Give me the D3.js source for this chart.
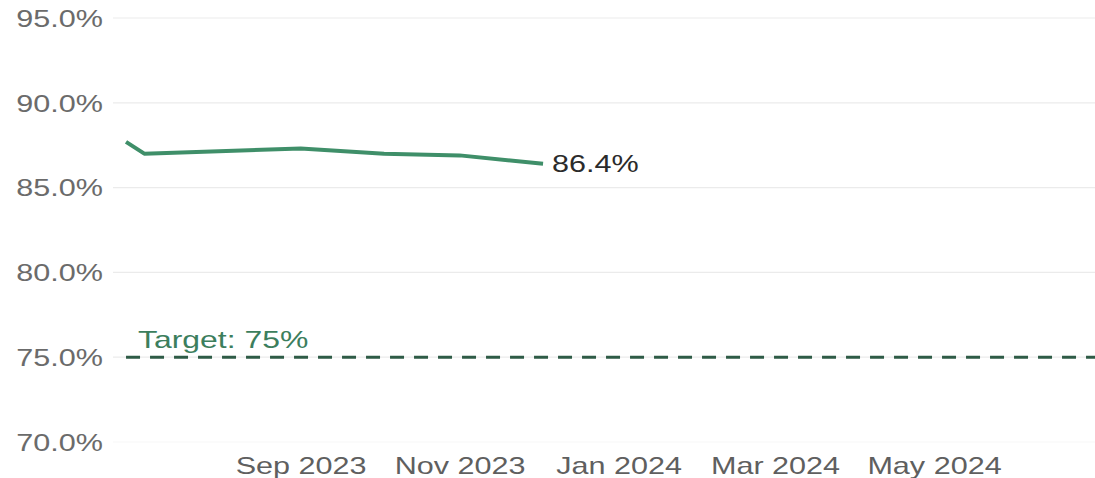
<!DOCTYPE html>
<html>
<head>
<meta charset="utf-8">
<script src="https://cdn.jsdelivr.net/npm/d3@7"></script>
<style>
  html, body { margin: 0; padding: 0; background: #fff; }
  svg { display: block; font-family: "Liberation Sans", Arial, sans-serif; }
</style>
</head>
<body>
<svg id="chart" width="1095" height="478"></svg>
<script>
// Monthly rate readings
const dates = ["2023-06-26", "2023-07-03", "2023-09-01", "2023-10-03", "2023-11-01", "2023-12-03"];
const values = [87.7, 87.0, 87.3, 87.0, 86.9, 86.4];

// Axis ticks
const yTicks = [70, 75, 80, 85, 90, 95];
const xTickDates = ["2023-09-01", "2023-11-01", "2024-01-01", "2024-03-01", "2024-05-01"];

// Target reference
const target = 75;
const targetLabel = "Target: 75%";

const parse = d3.utcParse("%Y-%m-%d");
const points = dates.map((d, i) => ({ date: parse(d), value: values[i] }));

const svg = d3.select("#chart");
const W = 1095;
const STRETCH = 1.33; // wide lettering used throughout

const x = d3.scaleUtc()
  .domain([parse("2023-06-21"), parse("2024-07-01")])
  .range([113, 1093]);

const y = d3.scaleLinear()
  .domain([70, 95])
  .range([442, 18]);

// Horizontal gridlines
svg.append("g")
  .selectAll("line")
  .data(yTicks)
  .join("line")
  .attr("x1", 113)
  .attr("x2", W)
  .attr("y1", d => y(d))
  .attr("y2", d => y(d))
  .attr("stroke", d => d === 70 ? "#f7f7f7" : "#ebebeb")
  .attr("stroke-width", 1.2);

// Y axis labels
const yAxis = svg.append("g")
  .attr("transform", "translate(113,0)")
  .call(d3.axisLeft(y).tickValues(yTicks).tickSize(0).tickPadding(0)
    .tickFormat(d => d3.format(".1f")(d) + "%"));
yAxis.select(".domain").remove();
yAxis.selectAll("text")
  .attr("x", -10 / STRETCH)
  .attr("dy", "0.36em")
  .attr("transform", `scale(${STRETCH},1)`)
  .attr("fill", "#6b6b6b")
  .style("font-size", "23px")
  .style("font-family", "'Liberation Sans', Arial, sans-serif");

// X axis labels
const xAxis = svg.append("g")
  .attr("transform", "translate(0,442)")
  .call(d3.axisBottom(x).tickValues(xTickDates.map(parse)).tickSize(0).tickPadding(0)
    .tickFormat(d3.utcFormat("%b %Y")));
xAxis.select(".domain").remove();
xAxis.selectAll("text")
  .attr("y", 32)
  .attr("dy", 0)
  .attr("transform", `scale(${STRETCH},1)`)
  .attr("fill", "#5f5f5f")
  .style("font-size", "23px")
  .style("font-family", "'Liberation Sans', Arial, sans-serif");

// Target dashed line
svg.append("line")
  .attr("x1", x(points[0].date))
  .attr("x2", W)
  .attr("y1", y(target))
  .attr("y2", y(target))
  .attr("stroke", "#2e5b46")
  .attr("stroke-width", 3)
  .attr("stroke-dasharray", "14,10");

svg.append("text")
  .attr("transform", `translate(${x(points[0].date) + 12},${y(target) - 9}) scale(${STRETCH},1)`)
  .attr("fill", "#3c7e5d")
  .style("font-size", "24px")
  .text(targetLabel);

// Rate line
const line = d3.line()
  .x(d => x(d.date))
  .y(d => y(d.value));

svg.append("path")
  .datum(points)
  .attr("d", line)
  .attr("fill", "none")
  .attr("stroke", "#3f8f69")
  .attr("stroke-width", 4)
  .attr("stroke-linejoin", "round");

// End-of-line value label
const last = points[points.length - 1];
svg.append("text")
  .attr("transform", `translate(${x(last.date) + 9},${y(last.value)}) scale(${STRETCH},1)`)
  .attr("dy", "0.36em")
  .attr("fill", "#2b2b2b")
  .style("font-size", "23px")
  .text(d3.format(".1f")(last.value) + "%");
</script>
</body>
</html>
